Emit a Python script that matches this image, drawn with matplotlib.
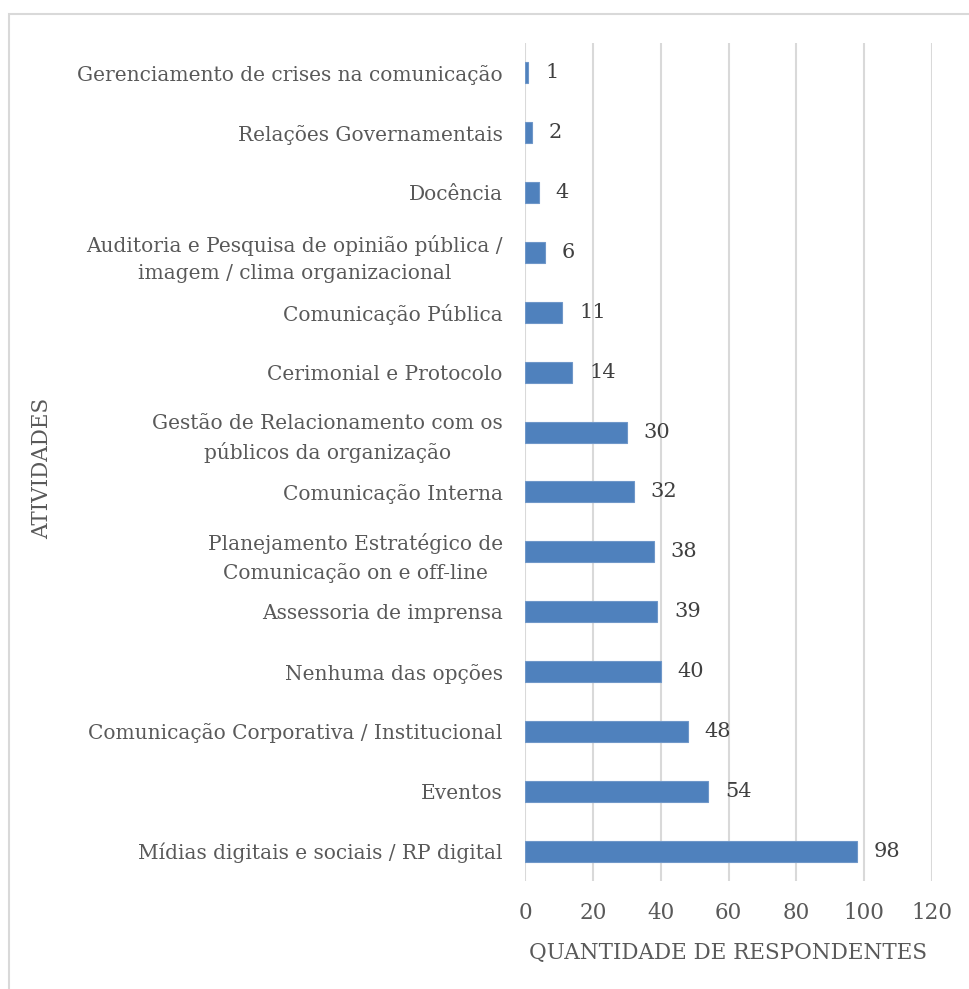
import matplotlib
matplotlib.use("Agg")
import matplotlib.pyplot as plt
from matplotlib.patches import Rectangle

categories = [
    "Gerenciamento de crises na comunicação",
    "Relações Governamentais",
    "Docência",
    "Auditoria e Pesquisa de opinião pública /\nimagem / clima organizacional",
    "Comunicação Pública",
    "Cerimonial e Protocolo",
    "Gestão de Relacionamento com os\npúblicos da organização",
    "Comunicação Interna",
    "Planejamento Estratégico de\nComunicação on e off-line",
    "Assessoria de imprensa",
    "Nenhuma das opções",
    "Comunicação Corporativa / Institucional",
    "Eventos",
    "Mídias digitais e sociais / RP digital",
]
values = [1, 2, 4, 6, 11, 14, 30, 32, 38, 39, 40, 48, 54, 98]
xticks = [0, 20, 40, 60, 80, 100, 120]

TEXT = "#595959"
GRID = "#d9d9d9"
BAR = "#4f81bd"
plt.rcParams["font.family"] = ["DejaVu Serif", "Liberation Serif"]

fig = plt.figure(figsize=(9.69, 9.89), dpi=100)
fig.patches.append(Rectangle((9 / 969, -0.1), 1.2, (989 - 14) / 989 + 0.1,
                             transform=fig.transFigure, fill=False,
                             edgecolor=GRID, linewidth=1.5))

ax = fig.add_axes([525 / 969, 108 / 989, (932 - 525) / 969, (881 - 43) / 989])
n = len(categories)
ypos = list(range(n))
ax.barh(ypos, values, height=0.35, color=BAR, edgecolor="#6f97c9", linewidth=0.8, zorder=3)
ax.set_ylim(n - 0.5, -0.5)
ax.set_xlim(0, 120)
ax.set_xticks(xticks)
ax.set_xticklabels([str(t) for t in xticks], fontsize=15.5, color=TEXT)
ax.set_yticks(ypos)
ax.set_yticklabels(categories, fontsize=14.5, color=TEXT, linespacing=1.55,
                   multialignment="center")
ax.tick_params(axis="both", length=0)
ax.tick_params(axis="y", pad=16)
ax.tick_params(axis="x", pad=15)
ax.grid(axis="x", color=GRID, linewidth=1.5, zorder=0)
for s in ax.spines.values():
    s.set_visible(False)

for y, v in zip(ypos, values):
    ax.annotate(str(v), (v, y), xytext=(12, 0), textcoords="offset points",
                ha="left", va="center", fontsize=15, color="#404040")

ax.set_xlabel("QUANTIDADE DE RESPONDENTES", fontsize=15.5, color=TEXT, labelpad=13)
fig.text(42 / 969, (989 - 468) / 989, "ATIVIDADES", rotation=90, fontsize=15.5,
         color=TEXT, ha="center", va="center")

fig.savefig("out.png", dpi=100)
